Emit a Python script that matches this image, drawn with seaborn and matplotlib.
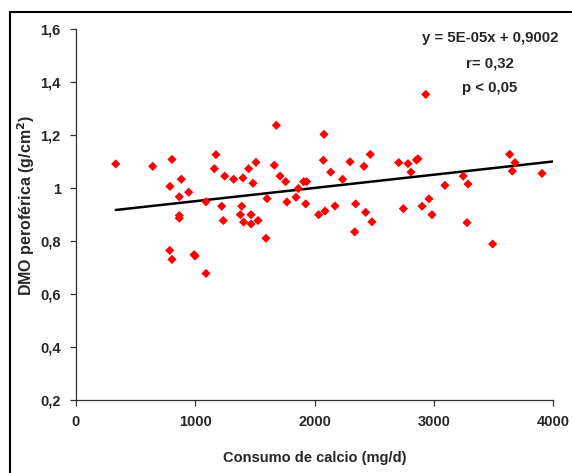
import numpy as np
import pandas as pd
import matplotlib
matplotlib.use("Agg")
import matplotlib.pyplot as plt
import seaborn as sns
from matplotlib import font_manager

# Calcium intake (mg/d) and peripheral BMD (g/cm2) per subject
calcio = [333, 643, 805, 788, 883, 866, 945, 866, 866, 786, 805, 990, 998,
          1090, 1090, 1174, 1160, 1247, 1222, 1235, 1322, 1400, 1448, 1509,
          1484, 1390, 1378, 1406, 1468, 1468, 1526, 1602, 1593, 1680, 1663,
          1711, 1758, 1769, 1845, 1864, 1909, 1934, 1926,
          2080, 2074, 2136, 2035, 2088, 2172, 2236, 2298, 2345, 2337, 2415,
          2468, 2429, 2482, 2706, 2784, 2809, 2855, 2868, 2745, 2933, 2902,
          2960, 2985, 3094, 3248, 3287, 3279, 3494, 3637, 3681, 3659, 3908]
dmo = [1.091, 1.082, 1.108, 1.006, 1.033, 0.967, 0.984, 0.896, 0.886, 0.764,
       0.730, 0.748, 0.743, 0.677, 0.948, 1.126, 1.073, 1.045, 0.931, 0.877,
       1.033, 1.038, 1.073, 1.097, 1.018, 0.931, 0.899, 0.871, 0.864, 0.899,
       0.877, 0.960, 0.810, 1.237, 1.086, 1.045, 1.024, 0.947, 0.965, 0.998,
       1.024, 1.024, 0.940,
       1.203, 1.105, 1.060, 0.899, 0.913, 0.932, 1.033, 1.099, 0.940, 0.834,
       1.082, 1.127, 0.908, 0.872, 1.096, 1.092, 1.060, 1.106, 1.110, 0.922,
       1.354, 0.931, 0.959, 0.899, 1.010, 1.045, 1.015, 0.869, 0.788, 1.127,
       1.096, 1.064, 1.055]

# Linear trendline coefficients
pendiente = 5e-05
intercepto = 0.9002
etiquetas = ["y = 5E-05x + 0,9002", "r= 0,32", "p < 0,05"]

x_ticks = [0, 1000, 2000, 3000, 4000]
y_ticks = [0.2, 0.4, 0.6, 0.8, 1.0, 1.2, 1.4, 1.6]
y_tick_labels = ["0,2", "0,4", "0,6", "0,8", "1", "1,2", "1,4", "1,6"]

sns.set_style("ticks")
installed = {f.name for f in font_manager.fontManager.ttflist}
fams = [f for f in ["Liberation Sans Narrow", "Liberation Sans", "DejaVu Sans"] if f in installed]
plt.rcParams["font.family"] = fams
plt.rcParams["font.weight"] = "bold"

df = pd.DataFrame({"calcio": calcio, "dmo": dmo})
x_fit = np.array([min(calcio), 4000])
fit = pd.DataFrame({"calcio": x_fit, "dmo": pendiente * x_fit + intercepto})

fig = plt.figure(figsize=(5.72, 4.73), dpi=100)
ax = fig.add_axes([76 / 572, 1 - 399.6 / 473, (553 - 76) / 572, (399.6 - 29.3) / 473])

sns.lineplot(data=fit, x="calcio", y="dmo", color="black", linewidth=1.8, ax=ax, zorder=2)
sns.scatterplot(data=df, x="calcio", y="dmo", marker="D", color="#ff0000",
                s=22, edgecolor="none", ax=ax, zorder=3)

ax.set_xlim(0, 4000)
ax.set_ylim(0.2, 1.6)
ax.set_xticks(x_ticks)
ax.set_xticklabels([str(t) for t in x_ticks])
ax.set_yticks(y_ticks)
ax.set_yticklabels(y_tick_labels)
ax.tick_params(axis="both", direction="out", length=4, width=0.9, color="#333333",
               labelsize=10.5, pad=7)
for lab in ax.get_xticklabels() + ax.get_yticklabels():
    lab.set_fontweight("bold")

for s in ["top", "right"]:
    ax.spines[s].set_visible(False)
for s in ["left", "bottom"]:
    ax.spines[s].set_linewidth(0.9)
    ax.spines[s].set_color("#333333")

ax.set_xlabel("Consumo de calcio (mg/d)", fontsize=10.5, fontweight="bold", labelpad=16)
ax.set_ylabel("DMO peroférica (g/cm$^\\mathbf{2}$)", fontsize=11.5, fontweight="bold")
ax.yaxis.set_label_coords(-0.082, 0.525)

for i, t in enumerate(etiquetas):
    fig.text(490 / 572, 1 - (38 + 25 * i) / 473, t, ha="center", va="center",
             fontsize=10.8, fontweight="bold")

# Outer frame of the figure
fig.add_artist(plt.Line2D([10 / 572, 10 / 572], [0, 1 - 12 / 473], color="black",
                          linewidth=1.5, transform=fig.transFigure))
fig.add_artist(plt.Line2D([10 / 572, 1], [1 - 12 / 473, 1 - 12 / 473], color="black",
                          linewidth=1.5, transform=fig.transFigure))

fig.savefig("out.png", dpi=100)
